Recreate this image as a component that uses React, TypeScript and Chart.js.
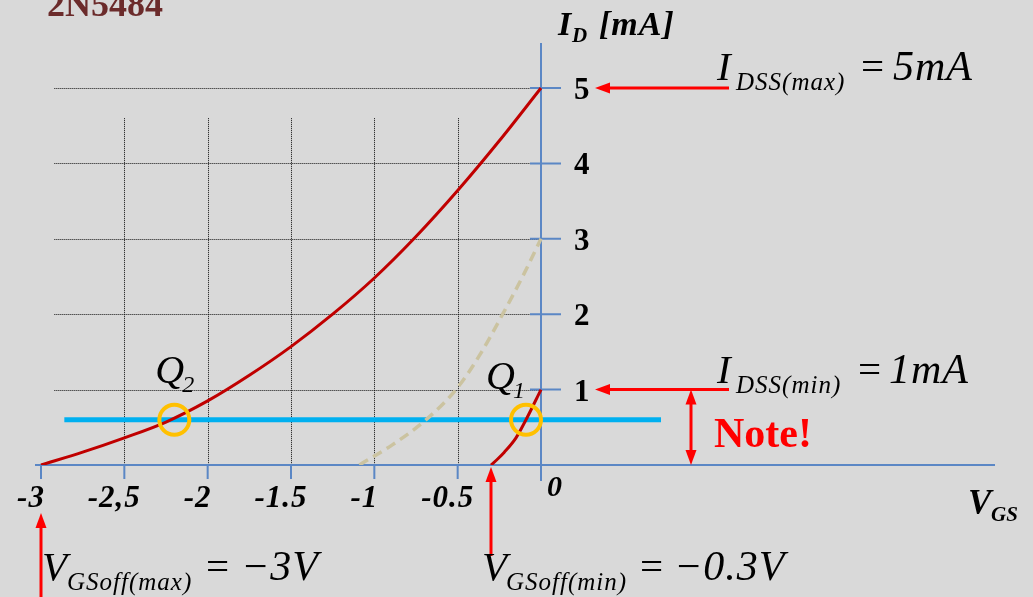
import { useEffect, useRef } from "react";
import { Chart, registerables } from "chart.js";

Chart.register(...registerables);

// Transfer characteristic of the 2N5484 JFET (I_D versus V_GS)
const vgsMax = [-3, -2.75, -2.5, -2.25, -2, -1.75, -1.5, -1.25, -1, -0.75, -0.5, -0.25, 0];
const idMax = [0, 0.17, 0.36, 0.57, 0.85, 1.19, 1.57, 2.0, 2.48, 3.03, 3.64, 4.3, 5];

const vgsMin = [-0.3, -0.26, -0.22, -0.15, -0.09, 0];
const idMin = [0, 0.08, 0.17, 0.36, 0.6, 1];

const vgsTyp = [-1.09, -0.89, -0.69, -0.51, -0.37, -0.23, -0.11, 0];
const idTyp = [0, 0.27, 0.6, 1.0, 1.45, 2.0, 2.5, 3.0];

// bias line and operating points
const biasV = [-2.86, 0.72];
const biasI = [0.6, 0.6];
const qV = [-2.2, -0.09];
const qI = [0.6, 0.6];
const qNames = ["2", "1"];

// axis ticks
const xTicks = [-3, -2.5, -2, -1.5, -1, -0.5];
const xTickLabels = ["-3", "-2,5", "-2", "-1.5", "-1", "-0.5"];
const yTicks = [1, 2, 3, 4, 5];
const yTickLabels = ["1", "2", "3", "4", "5"];

// datasheet limits
const idssMax = 5;
const idssMin = 1;
const vgsOffMax = -3;
const vgsOffMin = -0.3;

const SERIF = '"Liberation Serif", "Times New Roman", serif';
const AXIS = "#5b87c5";
const RED = "#ff0000";

const pts = (xs: number[], ys: number[]) => xs.map((v, i) => ({ x: v, y: ys[i] }));

function arrow(ctx: CanvasRenderingContext2D, x1: number, y1: number, x2: number, y2: number, both = false) {
  const head = (tx: number, ty: number, fx: number, fy: number) => {
    const a = Math.atan2(ty - fy, tx - fx);
    const L = 15, W = 5.5;
    ctx.beginPath();
    ctx.moveTo(tx, ty);
    ctx.lineTo(tx - L * Math.cos(a) + W * Math.sin(a), ty - L * Math.sin(a) - W * Math.cos(a));
    ctx.lineTo(tx - L * Math.cos(a) - W * Math.sin(a), ty - L * Math.sin(a) + W * Math.cos(a));
    ctx.closePath();
    ctx.fill();
  };
  const a = Math.atan2(y2 - y1, x2 - x1);
  const sx = both ? x1 + 12 * Math.cos(a) : x1;
  const sy = both ? y1 + 12 * Math.sin(a) : y1;
  ctx.beginPath();
  ctx.moveTo(sx, sy);
  ctx.lineTo(x2 - 12 * Math.cos(a), y2 - 12 * Math.sin(a));
  ctx.stroke();
  head(x2, y2, x1, y1);
  if (both) head(x1, y1, x2, y2);
}

function txt(ctx: CanvasRenderingContext2D, s: string, x: number, y: number, font: string, spacing = 0) {
  ctx.font = font;
  (ctx as any).letterSpacing = spacing + "px";
  ctx.fillText(s, x, y);
  (ctx as any).letterSpacing = "0px";
}

const overlay = {
  id: "overlay",
  beforeDatasetsDraw(chart: any) {
    const { ctx, chartArea } = chart;
    const xs = chart.scales.x;
    const ys = chart.scales.y;
    const x0 = xs.getPixelForValue(0);
    const y0 = ys.getPixelForValue(0);
    ctx.save();

    // dotted grid
    ctx.strokeStyle = "#111";
    ctx.lineWidth = 1;
    ctx.setLineDash([1, 1]);
    for (const v of yTicks) {
      const py = Math.round(ys.getPixelForValue(v)) + 0.5;
      ctx.beginPath();
      ctx.moveTo(xs.getPixelForValue(-2.92), py);
      ctx.lineTo(x0, py);
      ctx.stroke();
    }
    for (const v of xTicks.slice(1)) {
      const px = Math.round(xs.getPixelForValue(v)) + 0.5;
      ctx.beginPath();
      ctx.moveTo(px, ys.getPixelForValue(4.6));
      ctx.lineTo(px, y0);
      ctx.stroke();
    }
    ctx.setLineDash([]);

    // axes
    ctx.strokeStyle = AXIS;
    ctx.lineWidth = 2;
    ctx.beginPath();
    ctx.moveTo(chartArea.left, y0);
    ctx.lineTo(chartArea.right, y0);
    ctx.moveTo(x0, chartArea.top);
    ctx.lineTo(x0, y0 + 16);
    ctx.stroke();

    ctx.beginPath();
    for (const v of xTicks) {
      const px = xs.getPixelForValue(v);
      ctx.moveTo(px, y0);
      ctx.lineTo(px, y0 + 14);
    }
    for (const v of yTicks) {
      const py = ys.getPixelForValue(v);
      ctx.moveTo(x0 - 11, py);
      ctx.lineTo(x0 + 20, py);
    }
    ctx.stroke();
    ctx.restore();
  },
  afterDatasetsDraw(chart: any) {
    const { ctx } = chart;
    const xs = chart.scales.x;
    const ys = chart.scales.y;
    const x0 = xs.getPixelForValue(0);
    const y0 = ys.getPixelForValue(0);
    ctx.save();
    ctx.textBaseline = "alphabetic";

    // title
    ctx.fillStyle = "#6b2b2b";
    ctx.textAlign = "left";
    txt(ctx, "2N5484", 47, 16, `bold 36px ${SERIF}`);

    ctx.fillStyle = "#000";
    // x tick labels
    ctx.textAlign = "center";
    xTicks.forEach((v, i) => {
      txt(ctx, xTickLabels[i], xs.getPixelForValue(v) - 10, y0 + 42, `bold italic 31px ${SERIF}`, 1);
    });
    ctx.textAlign = "left";
    txt(ctx, "0", x0 + 6, y0 + 31, `bold italic 30px ${SERIF}`);

    // y tick labels
    yTicks.forEach((v, i) => {
      txt(ctx, yTickLabels[i], x0 + 33, ys.getPixelForValue(v) + 11, `bold 31px ${SERIF}`);
    });

    // axis titles
    txt(ctx, "I", 558, 35, `bold italic 34px ${SERIF}`);
    txt(ctx, "D", 572, 42, `bold italic 21px ${SERIF}`);
    txt(ctx, "[mA]", 599, 35, `bold italic 34px ${SERIF}`, 1);
    txt(ctx, "V", 968, 514, `bold italic 35px ${SERIF}`);
    txt(ctx, "GS", 991, 521, `bold italic 21px ${SERIF}`);

    // operating point names
    qV.forEach((v, i) => {
      const px = xs.getPixelForValue(v);
      const py = ys.getPixelForValue(qI[i]);
      const dx = i === 0 ? -19 : -40;
      const dy = i === 0 ? -37 : -31;
      txt(ctx, "Q", px + dx, py + dy, `italic 40px ${SERIF}`);
      txt(ctx, qNames[i], px + dx + 27, py + dy + 9, `italic 24px ${SERIF}`);
    });

    // annotations
    ctx.strokeStyle = RED;
    ctx.fillStyle = RED;
    ctx.lineWidth = 3;
    const yMax = ys.getPixelForValue(idssMax);
    const yMin = ys.getPixelForValue(idssMin);
    arrow(ctx, 729, yMax, 595, yMax);
    arrow(ctx, 729, yMin, 595, yMin);
    arrow(ctx, 691, yMin, 691, y0, true);
    const xOffMax = xs.getPixelForValue(vgsOffMax);
    const xOffMin = xs.getPixelForValue(vgsOffMin);
    arrow(ctx, xOffMax, 600, xOffMax, 513);
    arrow(ctx, xOffMin, 556, xOffMin, y0 + 2);

    txt(ctx, "Note!", 714, 447, `bold 42px ${SERIF}`);

    ctx.fillStyle = "#000";
    // I_DSS(max) = 5mA
    txt(ctx, "I", 717, yMax - 8, `italic 41px ${SERIF}`);
    txt(ctx, "DSS(max)", 736, yMax + 2, `italic 25px ${SERIF}`, 1);
    txt(ctx, "=", 861, yMax - 8, `41px ${SERIF}`);
    txt(ctx, "5mA", 893, yMax - 8, `italic 42px ${SERIF}`, 1);
    // I_DSS(min) = 1mA
    txt(ctx, "I", 717, yMin - 7, `italic 41px ${SERIF}`);
    txt(ctx, "DSS(min)", 736, yMin + 3, `italic 25px ${SERIF}`, 1);
    txt(ctx, "=", 858, yMin - 7, `41px ${SERIF}`);
    txt(ctx, "1mA", 889, yMin - 7, `italic 42px ${SERIF}`, 1);
    // V_GSoff(max) = -3V
    txt(ctx, "V", 42, 580, `italic 41px ${SERIF}`);
    txt(ctx, "GSoff(max)", 67, 590, `italic 25px ${SERIF}`, 1);
    txt(ctx, "=", 206, 580, `41px ${SERIF}`);
    txt(ctx, "\u22123V", 241, 580, `italic 42px ${SERIF}`, 1);
    // V_GSoff(min) = -0.3V
    txt(ctx, "V", 482, 580, `italic 41px ${SERIF}`);
    txt(ctx, "GSoff(min)", 506, 590, `italic 25px ${SERIF}`, 1);
    txt(ctx, "=", 640, 580, `41px ${SERIF}`);
    txt(ctx, "\u22120.3V", 674, 580, `italic 42px ${SERIF}`, 1);

    ctx.restore();
  },
};

export default function App() {
  const ref = useRef<HTMLCanvasElement | null>(null);

  useEffect(() => {
    if (!ref.current) return;
    const chart = new Chart(ref.current, {
      type: "line",
      data: {
        datasets: [
          {
            label: "Q",
            data: pts(qV, qI),
            showLine: false,
            pointRadius: 15,
            pointBorderWidth: 4,
            pointBorderColor: "#ffc000",
            pointBackgroundColor: "rgba(0,0,0,0)",
          },
          {
            label: "I_D max",
            data: pts(vgsMax, idMax),
            borderColor: "#c00000",
            borderWidth: 3,
            pointRadius: 0,
            cubicInterpolationMode: "monotone",
          },
          {
            label: "I_D min",
            data: pts(vgsMin, idMin),
            borderColor: "#c00000",
            borderWidth: 3,
            pointRadius: 0,
            cubicInterpolationMode: "monotone",
          },
          {
            label: "I_D typ",
            data: pts(vgsTyp, idTyp),
            borderColor: "#cbc3a0",
            borderWidth: 3.5,
            borderDash: [10, 6],
            pointRadius: 0,
            cubicInterpolationMode: "monotone",
          },
          {
            label: "bias",
            data: pts(biasV, biasI),
            borderColor: "#00b0f0",
            borderWidth: 5,
            pointRadius: 0,
          },
        ],
      },
      options: {
        animation: false,
        responsive: true,
        maintainAspectRatio: false,
        layout: { padding: { left: 35, right: 38, top: 43, bottom: 132 } },
        scales: {
          x: { type: "linear", min: -3.036, max: 2.724, display: false },
          y: { type: "linear", min: 0, max: 5.597, display: false },
        },
        plugins: { legend: { display: false }, tooltip: { enabled: false } },
        events: [],
      },
      plugins: [overlay],
    });
    return () => chart.destroy();
  }, []);

  return (
    <div style={{ position: "fixed", left: 0, top: 0, width: 1033, height: 597, background: "#d9d9d9" }}>
      <canvas ref={ref} />
    </div>
  );
}
